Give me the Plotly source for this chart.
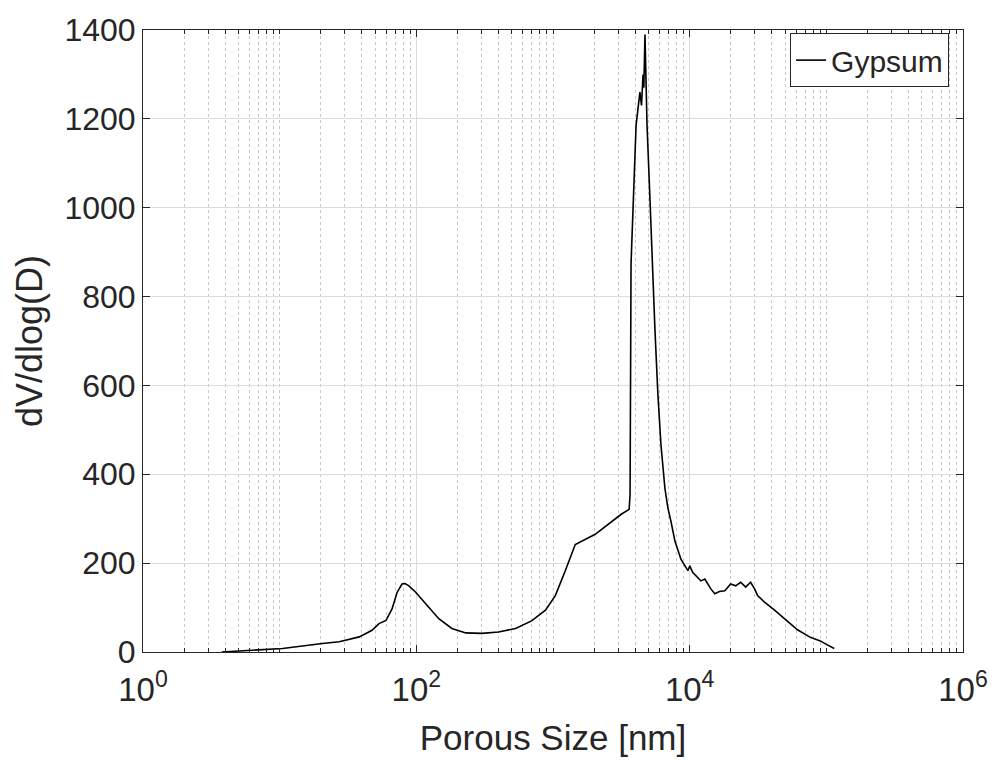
import plotly.graph_objects as go

# Pore size (nm) and dV/dlog(D)
pore_size_nm = [3.77, 7.5, 10.5, 20.5, 27.3, 38.2, 47.4, 53.3, 60.0, 66.4, 72.3, 78.5, 82.6, 88.3,
                99.3, 117.5, 146, 182, 230, 301, 400, 532, 697, 881, 1040, 1230, 1455, 2037,
                2851, 3155, 3606, 3664, 3724, 3855, 4055, 4325, 4440, 4560, 4620, 4710, 4753,
                4875, 5129, 5309, 5572, 5861, 6166, 6592, 6934, 7295, 7798, 8630, 9705, 10023,
                10544, 12078, 12912, 14289, 15276, 16500, 18071, 19953, 21727, 23605, 25704,
                27925, 29854, 31405, 35318, 41783, 49431, 61518, 76384, 90365, 101625, 114288]
dv_dlogd = [0, 4.5, 8, 19, 23, 34, 49, 64, 71, 97, 134, 153, 154, 149,
            134, 108, 75, 53, 43, 42, 45, 53, 70, 94, 127, 183, 242, 265,
            299, 310, 321, 354, 874, 1015, 1186, 1260, 1230, 1300, 1270, 1390, 1335,
            1186, 1015, 874, 725, 577, 466, 368, 324, 294, 250, 209, 183, 194,
            179, 160, 164, 142, 131, 136, 138, 153, 149, 157, 146,
            157, 142, 127, 112, 94, 75, 50, 33, 25, 16, 8]

x_tick_vals = [1, 1e2, 1e4, 1e6]
x_tick_text = ["10<sup>0</sup>", "10<sup>2</sup>", "10<sup>4</sup>", "10<sup>6</sup>"]
x_minor_vals = [m * 10 ** e for e in range(0, 6) for m in range(2, 10)] + [10, 1e3, 1e5]
y_tick_vals = [0, 200, 400, 600, 800, 1000, 1200, 1400]

FONT = "Liberation Sans, Arial, sans-serif"
AXIS_COLOR = "#262626"
GRID = "#dcdcdc"

fig = go.Figure()
fig.add_trace(go.Scatter(
    x=pore_size_nm, y=dv_dlogd, mode="lines", name="Gypsum",
    line=dict(color="black", width=1.6),
))

fig.update_layout(
    width=1000, height=767,
    margin=dict(l=143, r=34, t=24, b=115),
    paper_bgcolor="white", plot_bgcolor="white",
    font=dict(family=FONT, color=AXIS_COLOR),
    showlegend=True,
    legend=dict(
        x=0.983, y=0.995, xanchor="right", yanchor="top",
        bgcolor="white", bordercolor=AXIS_COLOR, borderwidth=1,
        font=dict(size=30, family=FONT, color=AXIS_COLOR),
        tracegroupgap=0,
    ),
    xaxis=dict(
        type="log", range=[0, 6],
        tickmode="array", tickvals=x_tick_vals, ticktext=x_tick_text,
        ticks="inside", ticklen=7, tickcolor=AXIS_COLOR,
        showline=True, linecolor=AXIS_COLOR, linewidth=1, mirror="allticks",
        showgrid=True, gridcolor=GRID, gridwidth=1,
        tickfont=dict(size=33, family=FONT, color=AXIS_COLOR),
        ticklabelstandoff=8,
        title=dict(text="Porous Size [nm]", font=dict(size=35, family=FONT, color=AXIS_COLOR), standoff=18),
        minor=dict(tickmode="array", tickvals=x_minor_vals, ticks="inside", ticklen=4,
                   tickcolor=AXIS_COLOR, showgrid=True, gridcolor="#c8c8c8",
                   griddash="dot", gridwidth=1),
        zeroline=False,
    ),
    yaxis=dict(
        range=[0, 1400], tickmode="array", tickvals=y_tick_vals,
        ticks="inside", ticklen=7, tickcolor=AXIS_COLOR,
        showline=True, linecolor=AXIS_COLOR, linewidth=1, mirror="allticks",
        showgrid=True, gridcolor=GRID, gridwidth=1,
        tickfont=dict(size=32, family=FONT, color=AXIS_COLOR),
        title=dict(text="dV/dlog(D)", font=dict(size=36, family=FONT, color=AXIS_COLOR), standoff=10),
        zeroline=False,
    ),
)

fig.write_html("out.html")
